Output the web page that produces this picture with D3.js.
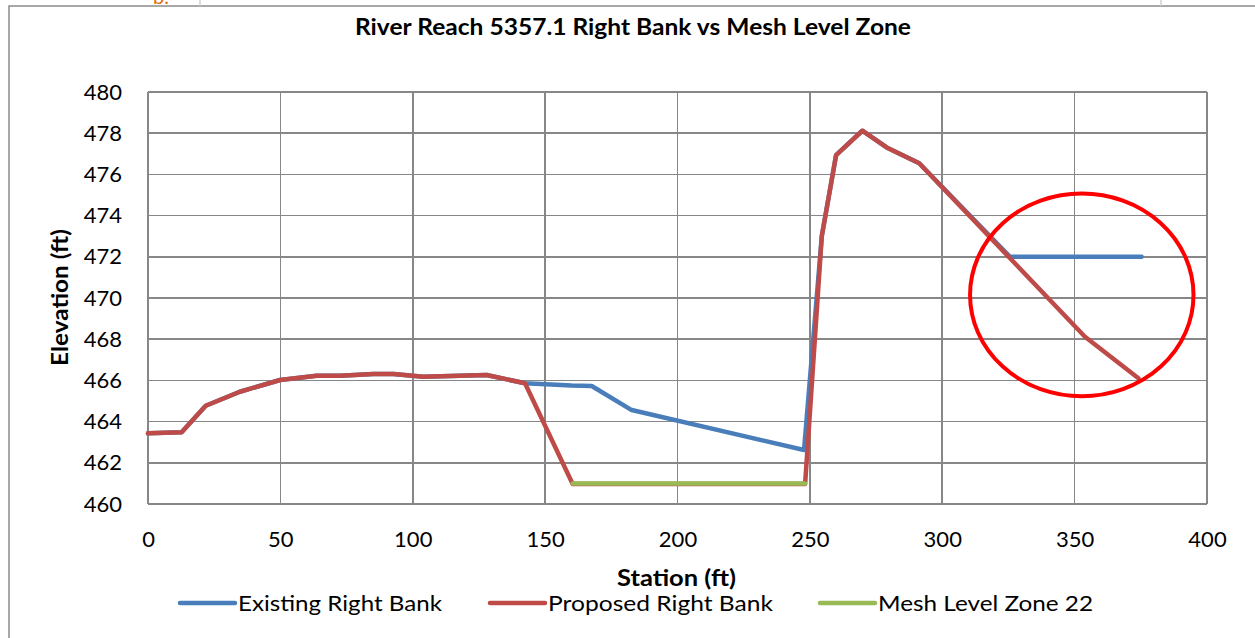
<!DOCTYPE html>
<meta charset="utf-8">
<title>River Reach 5357.1 Right Bank vs Mesh Level Zone</title>
<style>
body { margin: 0; background: #fff; }
svg text { font-family: Lato, "Open Sans", "DejaVu Sans", sans-serif; fill: #000; }
.grid line { stroke: #878787; stroke-width: 1.6; shape-rendering: crispEdges; }
.axis path, .axis line { display: none; }
.axis text { font-size: 22px; font-family: Lato, "Open Sans", sans-serif; }
.series { fill: none; stroke-width: 4.5; stroke-linejoin: round; stroke-linecap: round; }
</style>
<body>
<script src="https://cdnjs.cloudflare.com/ajax/libs/d3/7.8.5/d3.min.js"></script>
<script>

// station (ft) and elevation (ft) for each series
var existingStation = [0, 12.7, 21.8, 34.7, 49.9, 63.7, 72.5, 85.1, 92.7, 104, 127.9, 142.4, 160, 167.6, 182.7, 247.8, 254.5, 259.9, 269.8, 279, 291.3, 325.6, 375.3];
var existingElev    = [463.43, 463.48, 464.77, 465.45, 466.02, 466.23, 466.23, 466.31, 466.31, 466.18, 466.26, 465.86, 465.75, 465.73, 464.56, 462.62, 473.0, 476.94, 478.12, 477.31, 476.54, 472.0, 472.0];

var proposedStation = [0, 12.7, 21.8, 34.7, 49.9, 63.7, 72.5, 85.1, 92.7, 104, 127.9, 142.4, 160.4, 248.2, 254.5, 259.9, 269.8, 279, 291.3, 325.6, 353.9, 374.1];
var proposedElev    = [463.43, 463.48, 464.77, 465.45, 466.02, 466.23, 466.23, 466.31, 466.31, 466.18, 466.26, 465.86, 460.97, 460.97, 473.0, 476.94, 478.12, 477.31, 476.54, 471.93, 468.12, 466.1];

var meshStation = [160.4, 248.2];
var meshElev    = [461, 461];

var xTicks = [0, 50, 100, 150, 200, 250, 300, 350, 400];
var yTicks = [460, 462, 464, 466, 468, 470, 472, 474, 476, 478, 480];

var seriesNames  = ["Existing Right Bank", "Proposed Right Bank", "Mesh Level Zone 22"];
var seriesColors = ["#4a7ebb", "#be4b48", "#98b954"];

// red annotation ellipse: centre station, centre elevation, radius (ft), radius (ft)
var circleMark = [352.7, 470.15, 42.2, 4.92];

var width = 1255, height = 638;

var svg = d3.select("body").append("svg")
    .attr("width", width)
    .attr("height", height);

// chart frame and bits of the page around it
svg.append("rect")
    .attr("x", 9).attr("y", 6)
    .attr("width", 1260).attr("height", 640)
    .attr("fill", "none").attr("stroke", "#8c8c8c").attr("stroke-width", 1.5);
svg.append("line").attr("x1", 200).attr("x2", 200).attr("y1", 0).attr("y2", 6)
    .attr("stroke", "#d0d0d0").attr("stroke-width", 1.5);
svg.append("line").attr("x1", 1161).attr("x2", 1161).attr("y1", 0).attr("y2", 6)
    .attr("stroke", "#d0d0d0").attr("stroke-width", 1.5);
svg.append("text")
    .attr("x", 153).attr("y", 4)
    .style("font-size", "20px").style("fill", "#e36c09")
    .text("b.");

var x = d3.scaleLinear().domain([0, 400]).range([148, 1207]);
var y = d3.scaleLinear().domain([460, 480]).range([504, 92]);

// gridlines
var grid = svg.append("g").attr("class", "grid");
grid.selectAll(".h").data(yTicks).enter().append("line")
    .attr("x1", x(0)).attr("x2", x(400))
    .attr("y1", function(d) { return y(d); })
    .attr("y2", function(d) { return y(d); });
grid.selectAll(".v").data(xTicks).enter().append("line")
    .attr("y1", y(460)).attr("y2", y(480))
    .attr("x1", function(d) { return x(d); })
    .attr("x2", function(d) { return x(d); });

// axes
svg.append("g")
    .attr("class", "axis")
    .attr("transform", "translate(122,0)")
    .call(d3.axisLeft(y).tickValues(yTicks).tickSize(0).tickPadding(0));

svg.append("g")
    .attr("class", "axis")
    .attr("transform", "translate(0,531)")
    .call(d3.axisBottom(x).tickValues(xTicks).tickSize(0).tickPadding(0));

// series
var line = d3.line()
    .x(function(d) { return x(d[0]); })
    .y(function(d) { return y(d[1]); });

var data = [
    d3.zip(existingStation, existingElev),
    d3.zip(proposedStation, proposedElev),
    d3.zip(meshStation, meshElev)
];

svg.selectAll(".series").data(data).enter().append("path")
    .attr("class", "series")
    .attr("d", line)
    .attr("stroke", function(d, i) { return seriesColors[i]; });

// annotation ellipse
svg.append("ellipse")
    .attr("cx", x(circleMark[0]))
    .attr("cy", y(circleMark[1]))
    .attr("rx", x(circleMark[2]) - x(0))
    .attr("ry", y(460) - y(460 + circleMark[3]))
    .attr("fill", "none")
    .attr("stroke", "#ff0000")
    .attr("stroke-width", 4);

// titles
svg.append("text")
    .attr("x", 355).attr("y", 35)
    .attr("textLength", 556).attr("lengthAdjust", "spacingAndGlyphs")
    .style("font-size", "22px").style("font-weight", "bold")
    .text("River Reach 5357.1 Right Bank vs Mesh Level Zone");

svg.append("text")
    .attr("x", 617).attr("y", 586)
    .attr("textLength", 119).attr("lengthAdjust", "spacingAndGlyphs")
    .style("font-size", "22px").style("font-weight", "bold")
    .text("Station (ft)");

svg.append("text")
    .attr("transform", "translate(68,366) rotate(-90)")
    .attr("textLength", 137).attr("lengthAdjust", "spacingAndGlyphs")
    .style("font-size", "22px").style("font-weight", "bold")
    .text("Elevation (ft)");

// legend
var legendX = [180, 490, 820];
var legendW = [204, 225, 215];
var legend = svg.selectAll(".legend").data(seriesNames).enter().append("g")
    .attr("class", "legend")
    .attr("transform", function(d, i) { return "translate(" + legendX[i] + ",603)"; });
legend.append("line")
    .attr("x1", 0).attr("x2", 55)
    .attr("stroke", function(d, i) { return seriesColors[i]; })
    .attr("stroke-width", 4.5)
    .attr("stroke-linecap", "round");
legend.append("text")
    .attr("x", 58).attr("dy", "0.36em")
    .attr("textLength", function(d, i) { return legendW[i]; })
    .attr("lengthAdjust", "spacingAndGlyphs")
    .style("font-size", "22px")
    .text(function(d) { return d; });

</script>
</body>
